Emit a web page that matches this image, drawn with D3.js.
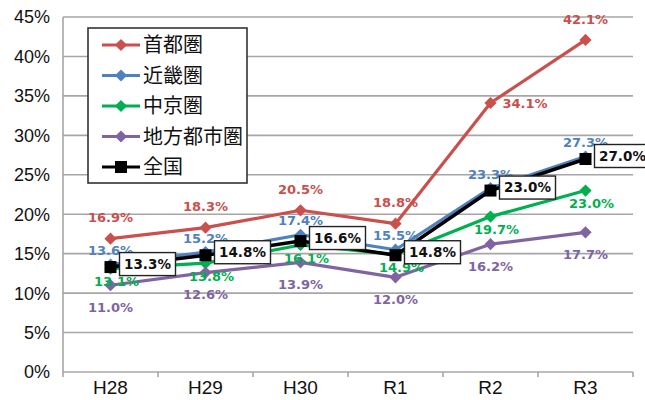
<!DOCTYPE html>
<html>
<head>
<meta charset="utf-8">
<script src="https://cdn.jsdelivr.net/npm/d3@7"></script>
<style>
  body { margin: 0; background: #fff; }
  svg { display: block; }
</style>
</head>
<body>
<svg id="chart" width="645" height="400"></svg>
<script>
// line chart: share by area, H28 - R3

const YEARS = ["H28", "H29", "H30", "R1", "R2", "R3"];
const Y_TICKS = [0, 5, 10, 15, 20, 25, 30, 35, 40, 45];

const SHUTO   = [16.9, 18.3, 20.5, 18.8, 34.1, 42.1];
const KINKI   = [13.6, 15.2, 17.4, 15.5, 23.3, 27.3];
const CHUKYO  = [13.1, 13.8, 16.1, 14.9, 19.7, 23.0];
const CHIHOU  = [11.0, 12.6, 13.9, 12.0, 16.2, 17.7];
const ZENKOKU = [13.3, 14.8, 16.6, 14.8, 23.0, 27.0];

const SERIES = [
  { name: "首都圏",     values: SHUTO,   color: "#c9504c", marker: "diamond", lab: { dx: 0,  dy: -21, anchor: "middle" } },
  { name: "近畿圏",     values: KINKI,   color: "#4f81bd", marker: "diamond", lab: { dx: 0,  dy: -14, anchor: "middle" } },
  { name: "中京圏",     values: CHUKYO,  color: "#00b050", marker: "diamond", lab: { dx: 6,  dy: 13,  anchor: "middle" } },
  { name: "地方都市圏", values: CHIHOU,  color: "#8064a2", marker: "diamond", lab: { dx: 0,  dy: 22,  anchor: "middle" } },
  { name: "全国",       values: ZENKOKU, color: "#000000", marker: "square",  lab: null }
];

const W = 645, H = 400;
const margin = { top: 17, right: 12, bottom: 28, left: 63 };
const iW = W - margin.left - margin.right;
const iH = H - margin.top - margin.bottom;

const svg = d3.select("#chart");
const g = svg.append("g").attr("transform", `translate(${margin.left},${margin.top})`);

// ── Scales ────────────────────────────────────────────────────
const xs = d3.scaleBand().domain(YEARS).range([0, iW]);
const ys = d3.scaleLinear().domain([0, 45]).range([iH, 0]);
const cx = y => xs(y) + xs.bandwidth() / 2;

// ── Grid + axes ───────────────────────────────────────────────
Y_TICKS.forEach(t => {
  g.append("line")
    .attr("x1", 0).attr("x2", iW)
    .attr("y1", ys(t)).attr("y2", ys(t))
    .attr("stroke", "#a6a6a6").attr("stroke-width", 1.6);
  g.append("text")
    .attr("x", -13).attr("y", ys(t)).attr("dy", "0.36em")
    .attr("text-anchor", "end")
    .attr("font-family", "Liberation Sans, Arial, sans-serif")
    .attr("font-size", "18px").attr("fill", "#111")
    .text(t + "%");
});

g.append("line")
  .attr("x1", 0).attr("x2", 0).attr("y1", 0).attr("y2", iH)
  .attr("stroke", "#a6a6a6").attr("stroke-width", 1.6);

// category boundary ticks on the x axis
d3.range(YEARS.length + 1).forEach(i => {
  const x = i * xs.bandwidth();
  g.append("line")
    .attr("x1", x).attr("x2", x).attr("y1", iH).attr("y2", iH + 5)
    .attr("stroke", "#a6a6a6").attr("stroke-width", 1.6);
});

YEARS.forEach(y => {
  g.append("text")
    .attr("x", cx(y)).attr("y", iH + 22)
    .attr("text-anchor", "middle")
    .attr("font-family", "Liberation Sans, Arial, sans-serif")
    .attr("font-size", "19px").attr("fill", "#111")
    .text(y);
});

// ── Lines + markers ───────────────────────────────────────────
const line = d3.line().x((v, i) => cx(YEARS[i])).y(v => ys(v));

function drawMarker(sel, type, color, x, y) {
  if (type === "square") {
    sel.append("rect")
      .attr("x", x - 6).attr("y", y - 6).attr("width", 12).attr("height", 12)
      .attr("fill", color);
  } else {
    sel.append("path")
      .attr("d", d3.symbol(d3.symbolDiamond2, 95)())
      .attr("transform", `translate(${x},${y})`)
      .attr("fill", color);
  }
}

SERIES.forEach(s => {
  g.append("path")
    .attr("d", line(s.values))
    .attr("fill", "none")
    .attr("stroke", s.color)
    .attr("stroke-width", s.marker === "square" ? 3.5 : 3.2)
    .attr("stroke-linejoin", "round");
  s.values.forEach((v, i) => drawMarker(g, s.marker, s.color, cx(YEARS[i]), ys(v)));
});

// ── Data labels ───────────────────────────────────────────────
const labFont = "DejaVu Sans, Verdana, sans-serif";
SERIES.forEach(s => {
  if (!s.lab) return;
  s.values.forEach((v, i) => {
    let dx = s.lab.dx, dy = s.lab.dy, anchor = s.lab.anchor;
    // 首都圏 R2 label sits to the right of its point
    if (s.name === "首都圏" && YEARS[i] === "R2") { dx = 12; dy = 0; anchor = "start"; }
    g.append("text")
      .attr("x", cx(YEARS[i]) + dx).attr("y", ys(v) + dy).attr("dy", "0.36em")
      .attr("text-anchor", anchor)
      .attr("font-family", labFont).attr("font-weight", "bold")
      .attr("font-size", "13px").attr("fill", s.color)
      .text(v.toFixed(1) + "%");
  });
});

// boxed labels for 全国
ZENKOKU.forEach((v, i) => {
  const x = cx(YEARS[i]) + 9, y = ys(v) - 3;
  const lg = g.append("g").attr("transform", `translate(${x},${y})`);
  lg.append("rect")
    .attr("x", 0).attr("y", -11.5).attr("width", 56).attr("height", 23)
    .attr("fill", "#fff").attr("stroke", "#222").attr("stroke-width", 1.4);
  lg.append("text")
    .attr("x", 28).attr("y", 0).attr("dy", "0.36em")
    .attr("text-anchor", "middle")
    .attr("font-family", labFont).attr("font-weight", "bold")
    .attr("font-size", "13.5px").attr("fill", "#111")
    .text(v.toFixed(1) + "%");
});

// ── Legend ────────────────────────────────────────────────────
const leg = svg.append("g").attr("transform", "translate(88,28)");
leg.append("rect")
  .attr("width", 159).attr("height", 155)
  .attr("fill", "#fff").attr("stroke", "#333").attr("stroke-width", 1.6);

SERIES.forEach((s, i) => {
  const y = 17 + i * 30.5;
  leg.append("line")
    .attr("x1", 14).attr("x2", 52).attr("y1", y).attr("y2", y)
    .attr("stroke", s.color).attr("stroke-width", 3);
  drawMarker(leg, s.marker, s.color, 33, y);
  leg.append("text")
    .attr("x", 55).attr("y", y).attr("dy", "0.36em")
    .attr("font-family", "Noto Sans CJK JP, sans-serif")
    .attr("font-size", "20px").attr("fill", "#111")
    .text(s.name);
});
</script>
</body>
</html>
